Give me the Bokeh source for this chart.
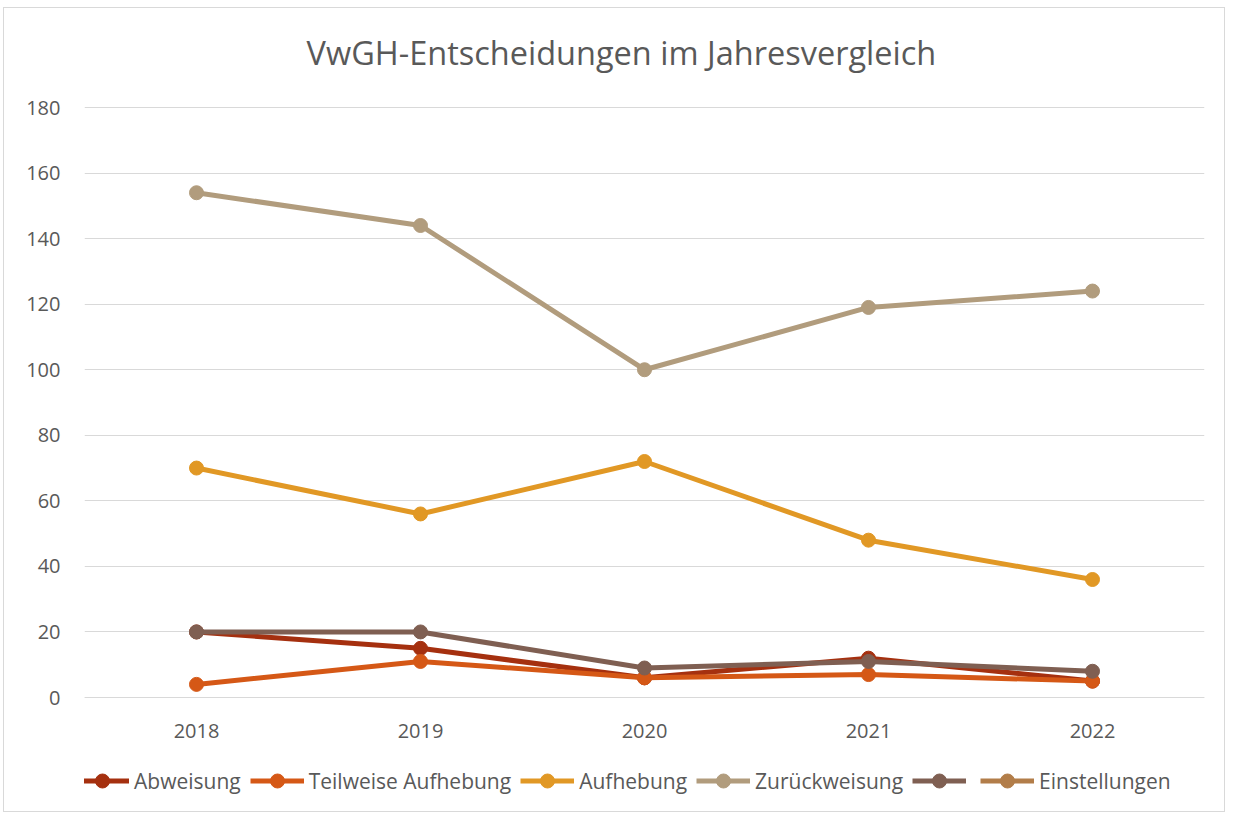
from bokeh.plotting import figure
from bokeh.models import ColumnDataSource, Legend, LegendItem, FixedTicker, Range1d, Label
from bokeh.embed import file_html
from bokeh.resources import INLINE

nan = float("nan")
title_text = "VwGH-Entscheidungen im Jahresvergleich"
years = ["2018", "2019", "2020", "2021", "2022"]
abweisung = [20, 15, 6, 12, 5]
teilweise = [4, 11, 6, 7, 5]
aufhebung = [70, 56, 72, 48, 36]
zurueck = [154, 144, 100, 119, 124]
unbenannt = [20, 20, 9, 11, 8]
einstellungen = [nan, nan, nan, nan, nan]

series = [
    ("Abweisung", abweisung, "#A5300F"),
    ("Teilweise Aufhebung", teilweise, "#D55816"),
    ("Aufhebung", aufhebung, "#E19825"),
    ("Zurückweisung", zurueck, "#B19C7D"),
    ("", unbenannt, "#7F5F52"),
    ("Einstellungen", einstellungen, "#B27D49"),
]

FONT = "Open Sans"
GREY = "#595959"

# layout: 590 px for 0..180 on the value axis; frame extended above/below
K = 590 / 180
y_top = 180 + 97 / K
y_bot = -112 / K

p = figure(frame_width=1120, frame_height=799, x_range=years, y_range=Range1d(y_bot, y_top),
           output_backend="svg", toolbar_location=None,
           min_border_left=80, min_border_right=20, min_border_top=2, min_border_bottom=2)
p.styles = {"border": "1px solid #d9d9d9", "margin-left": "3px", "margin-top": "7px"}
p.outline_line_color = None
p.background_fill_color = "white"
p.border_fill_color = "white"

p.xgrid.grid_line_color = None
p.ygrid.grid_line_color = "#d9d9d9"
p.ygrid.grid_line_width = 1
p.yaxis.ticker = FixedTicker(ticks=list(range(0, 181, 20)))
p.yaxis.axis_line_color = None
p.yaxis.major_tick_line_color = None
p.yaxis.minor_tick_line_color = None
p.yaxis.major_label_text_font = FONT
p.yaxis.major_label_text_font_size = "20px"
p.yaxis.major_label_text_color = GREY
p.yaxis.major_label_standoff = 18

p.xaxis.fixed_location = 0
p.xaxis.axis_line_color = "#d9d9d9"
p.xaxis.major_tick_line_color = None
p.xaxis.minor_tick_line_color = None
p.xaxis.major_label_text_font = FONT
p.xaxis.major_label_text_font_size = "20px"
p.xaxis.major_label_text_color = GREY
p.xaxis.major_label_standoff = 20
p.x_range.range_padding = 0

title = Label(x=2.397, y=180 + 55 / K, text=title_text, text_align="center",
              text_baseline="middle", text_font=FONT, text_font_size="32.5px",
              text_color=GREY)
p.add_layout(title)

items = []
for name, vals, color in series:
    src = ColumnDataSource(dict(x=years, y=vals))
    r1 = p.line("x", "y", source=src, line_color=color, line_width=5)
    r2 = p.scatter("x", "y", source=src, size=14, fill_color=color, line_color=color)
    items.append(LegendItem(label=name, renderers=[r1, r2]))

legend = Legend(items=items, orientation="horizontal", location=(-9, 11),
                label_text_font=FONT, label_text_font_size="21px",
                label_text_color=GREY, border_line_color=None,
                background_fill_alpha=0, glyph_width=54, glyph_height=35,
                label_width=0, label_height=20,
                spacing=9, label_standoff=5, margin=0, padding=0)
p.add_layout(legend, "center")

open("out.html", "w").write(file_html(p, INLINE))
